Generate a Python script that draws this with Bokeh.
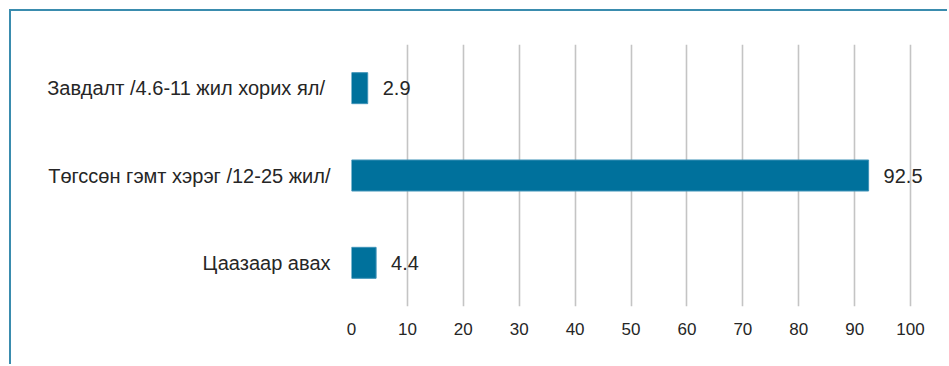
from bokeh.plotting import figure
from bokeh.models import ColumnDataSource, LabelSet, FixedTicker
from bokeh.core.properties import value
from bokeh.embed import file_html
from bokeh.resources import INLINE

categories = ["Цаазаар авах", "Төгссөн гэмт хэрэг /12-25 жил/", "Завдалт  /4.6-11 жил хорих ял/"]
values = [4.4, 92.5, 2.9]
value_labels = ["4.4", "92.5", "2.9"]
x_ticks = [0, 10, 20, 30, 40, 50, 60, 70, 80, 90, 100]

FONT = "Liberation Sans"
BAR = "#00719C"
FRAME = "#3A8CAE"
TEXT = "#262626"

src = ColumnDataSource(dict(cat=categories, val=values, lab=value_labels))

p = figure(width=938, height=355, y_range=categories, x_range=(0, 105),
           output_backend="svg", toolbar_location=None,
           min_border_left=340, min_border_right=11, min_border_top=33, min_border_bottom=60)
p.outline_line_color = None
p.background_fill_color = "white"
p.styles = {"margin-top": "9px", "margin-left": "9px",
            "border-top": f"2px solid {FRAME}", "border-left": f"2px solid {FRAME}"}

p.hbar(y="cat", right="val", left=0, height=0.355, source=src, color=BAR,
       line_color="#3F93B8", line_width=1)

labels = LabelSet(x="val", y="cat", text="lab", source=src, x_offset=15, y_offset=0,
                  text_baseline="middle", text_align="left", text_font=value(FONT),
                  text_font_size="20px", text_color=TEXT)
p.add_layout(labels)

p.xaxis.ticker = FixedTicker(ticks=x_ticks)
p.xaxis.axis_line_color = None
p.xaxis.major_tick_line_color = None
p.xaxis.minor_tick_line_color = None
p.xaxis.major_label_text_font = FONT
p.xaxis.major_label_text_font_size = "17px"
p.xaxis.major_label_text_color = TEXT
p.xaxis.major_label_standoff = 10

p.yaxis.axis_line_color = None
p.yaxis.major_tick_line_color = None
p.yaxis.major_label_text_font = FONT
p.yaxis.major_label_text_font_size = "20px"
p.yaxis.major_label_text_color = TEXT
p.yaxis.major_label_standoff = 15

p.ygrid.grid_line_color = None
p.xgrid.grid_line_color = "#C4C4C4"
p.xgrid.grid_line_width = 1.6

open("out.html", "w").write(file_html(p, INLINE))
